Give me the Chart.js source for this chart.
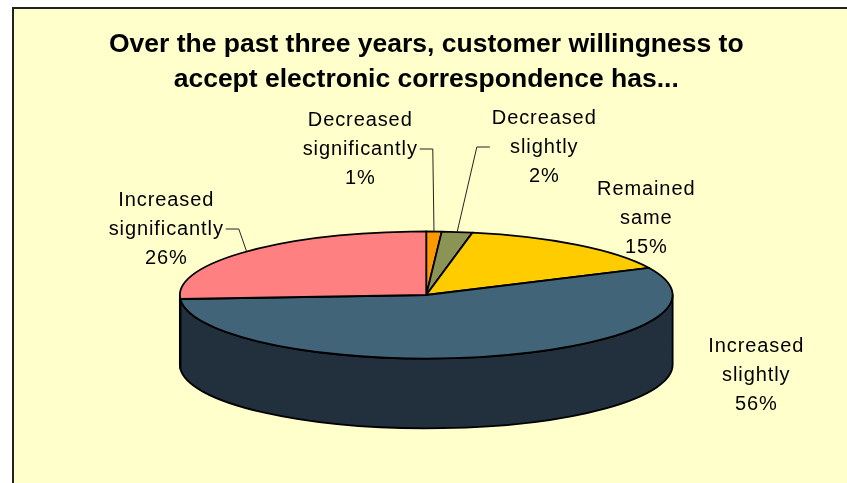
<!DOCTYPE html>
<html>
<head>
<meta charset="utf-8">
<script src="https://cdn.jsdelivr.net/npm/chart.js@4.4.0/dist/chart.umd.min.js"></script>
<style>
  html, body { margin: 0; padding: 0; background: #fff; overflow: hidden; }
  #panel { position: absolute; left: 12px; top: 7px; width: 900px; height: 600px;
           background: #FFFFCC; border-left: 2px solid #222; border-top: 2px solid #222; }
  #myChart { position: absolute; left: 0; top: 0; }
</style>
</head>
<body>
<div id="panel"></div>
<canvas id="myChart" width="847" height="483"></canvas>
<script>
const titleLines = ["Over the past three years, customer willingness to",
                    "accept electronic correspondence has..."];
const categories = ["Decreased significantly", "Decreased slightly", "Remained same",
                    "Increased slightly", "Increased significantly"];
const shares = [1, 2, 15, 56, 26];
const topColors = ["#FF9900", "#8C9455", "#FFCC00", "#426479", "#FF8080"];
const sideColors = ["#B36B00", "#5E6439", "#B38F00", "#21303C", "#B35A5A"];

// label placement, relative to the pie centre (middle line of each label)
const labelLayout = [
  { dx: -66, dy: -146, leader: "right" },
  { dx: 118, dy: -148, leader: "left" },
  { dx: 220, dy: -77 },
  { dx: 330, dy: 80 },
  { dx: -260, dy: -66, leader: "right" }
];

const FONT = '"Liberation Sans", Arial, Helvetica, sans-serif';
Chart.defaults.font.family = FONT;

function geometry(chart, opts) {
  const arcs = chart.getDatasetMeta(0).data;
  const ry = arcs[0].outerRadius;
  return { arcs, cx: arcs[0].x, cy: arcs[0].y, rx: ry * opts.aspect, ry };
}

// draws the pie as a tilted disc with a front wall, plus the slice labels
const pie3d = {
  id: "pie3d",
  beforeDatasetsDraw(chart, args, opts) {
    const ctx = chart.ctx;
    const { arcs, cx, cy, rx, ry } = geometry(chart, opts);
    const depth = ry * opts.depthRatio;

    ctx.save();
    ctx.lineWidth = opts.lineWidth;
    ctx.strokeStyle = "#000";
    ctx.lineJoin = "round";

    // front walls (only the part facing the viewer, angles 0..PI)
    arcs.forEach((arc, i) => {
      const s = Math.max(arc.startAngle, 0);
      const e = Math.min(arc.endAngle, Math.PI);
      if (e <= s) return;
      ctx.beginPath();
      ctx.ellipse(cx, cy, rx, ry, 0, s, e, false);
      ctx.lineTo(cx + rx * Math.cos(e), cy + depth + ry * Math.sin(e));
      ctx.ellipse(cx, cy + depth, rx, ry, 0, e, s, true);
      ctx.closePath();
      ctx.fillStyle = sideColors[i];
      ctx.fill();
      ctx.stroke();
    });

    // top faces
    arcs.forEach((arc, i) => {
      ctx.beginPath();
      ctx.moveTo(cx, cy);
      ctx.ellipse(cx, cy, rx, ry, 0, arc.startAngle, arc.endAngle, false);
      ctx.closePath();
      ctx.fillStyle = topColors[i];
      ctx.fill();
      ctx.stroke();
    });
    ctx.restore();
    return false;
  },
  afterDraw(chart, args, opts) {
    const ctx = chart.ctx;
    const { arcs, cx, cy, rx, ry } = geometry(chart, opts);

    ctx.save();
    ctx.font = opts.labelSize + "px " + FONT;
    ctx.letterSpacing = opts.letterSpacing;
    ctx.fillStyle = "#000";
    ctx.textAlign = "center";
    ctx.textBaseline = "middle";

    arcs.forEach((arc, i) => {
      const lay = labelLayout[i];
      const lines = categories[i].split(" ").concat([shares[i] + "%"]);
      const lx = cx + lay.dx, ly = cy + lay.dy;
      const top = ly - (lines.length - 1) / 2 * opts.lineStep;
      let w = 0;
      lines.forEach((t, k) => {
        w = Math.max(w, ctx.measureText(t).width);
        ctx.fillText(t, lx, top + k * opts.lineStep);
      });

      if (lay.leader) {
        const mid = (arc.startAngle + arc.endAngle) / 2;
        const px = cx + rx * Math.cos(mid), py = cy + ry * Math.sin(mid);
        const dir = lay.leader === "right" ? 1 : -1;
        const x0 = lx + dir * (w / 2 + 2);
        ctx.beginPath();
        ctx.moveTo(x0, ly);
        ctx.lineTo(x0 + dir * 13, ly);
        ctx.lineTo(px, py);
        ctx.strokeStyle = "#222";
        ctx.lineWidth = 1;
        ctx.stroke();
      }
    });
    ctx.restore();
  }
};

new Chart(document.getElementById("myChart").getContext("2d"), {
  type: "pie",
  data: {
    labels: categories,
    datasets: [{
      data: shares,
      backgroundColor: topColors,
      borderWidth: 0
    }]
  },
  options: {
    responsive: false,
    animation: false,
    events: [],
    layout: { padding: { left: 5.5, right: 0, top: 0, bottom: 124.5 } },
    plugins: {
      legend: { display: false },
      tooltip: { enabled: false },
      title: {
        display: true,
        text: titleLines,
        color: "#000",
        font: { size: 26.5, weight: "bold", lineHeight: 35 / 26.5 },
        padding: { top: 27.5, bottom: 134 }
      },
      pie3d: { aspect: 3.88, depthRatio: 1.1, lineWidth: 1.8, labelSize: 20, letterSpacing: "0.9px", lineStep: 29 }
    }
  },
  plugins: [pie3d]
});
</script>
</body>
</html>
